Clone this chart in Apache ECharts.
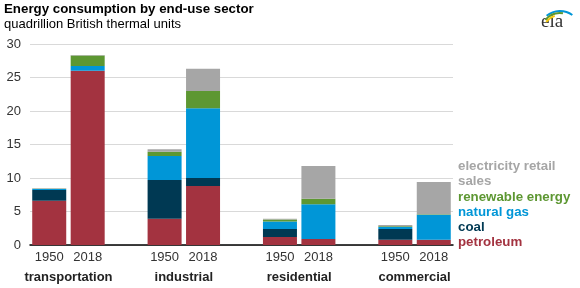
<!DOCTYPE html>
<html>
<head>
<meta charset="utf-8">
<script src="https://cdn.jsdelivr.net/npm/echarts@6/dist/echarts.min.js"></script>
<style>html,body{margin:0;padding:0;background:#fff;}#c{width:580px;height:288px;}</style>
</head>
<body>
<div id="c"></div>
<script>
var years = ['1950','2018','','1950','2018','','1950','2018','','1950','2018'];
var sectorLabels = ['','transportation','','','industrial','','','residential','','','commercial',''];
var petroleum   = [6.6, 26.0, null, 3.9, 8.8, null, 1.2, 0.9, null, 0.8, 0.8];
var coal        = [1.6, 0.0, null, 5.8, 1.2, null, 1.2, 0.0, null, 1.6, 0.0];
var naturalGas  = [0.15, 0.7, null, 3.6, 10.4, null, 1.1, 5.2, null, 0.3, 3.7];
var renewable   = [0.03, 1.6, null, 0.6, 2.6, null, 0.3, 0.8, null, 0.1, 0.1];
var electricity = [0.1, 0.05, null, 0.4, 3.3, null, 0.1, 4.9, null, 0.2, 4.8];
var seriesNames = ['petroleum','coal','natural gas','renewable energy','electricity retail sales'];
var legendLabels = ['electricity retail\nsales','renewable energy','natural gas','coal','petroleum'];
var colors = ['#a33340','#003953','#0096d7','#5d9732','#a6a6a6'];
var font = '"Liberation Sans", Arial, sans-serif';

var chart = echarts.init(document.getElementById('c'), null, {renderer:'canvas'});
var dataSets = [petroleum, coal, naturalGas, renewable, electricity];
var series = dataSets.map(function(d,i){
  return {name: seriesNames[i], type:'bar', stack:'total', data:d, barWidth:34,
    itemStyle:{color:colors[i]}, xAxisIndex:0, animation:false};
});
var legendY = [173.5, 197, 212, 227, 242];
var legendColors = [colors[4], colors[3], colors[2], colors[1], colors[0]];
var graphics = legendLabels.map(function(t,i){
  return {type:'text', left:458, top:legendY[i]-(i===0?15:7.5), silent:true,
    style:{text:t, fill:legendColors[i], font:'bold 13.3px '+font, lineHeight:15}};
});
graphics.push({type:'text', left:4, top:3, style:{text:'Energy consumption by end-use sector', fill:'#000', font:'bold 13.3px '+font}});
graphics.push({type:'text', left:4, top:18, style:{text:'quadrillion British thermal units', fill:'#000', font:'13px '+font}});
// eia logo
graphics.push({type:'text', left:541, top:13, style:{text:'eia', fill:'#333', font:'19px "Liberation Serif", serif'}});
graphics.push({type:'arc', shape:{cx:560, cy:32, r:21, startAngle:-Math.PI*0.72, endAngle:-Math.PI*0.3}, style:{stroke:'#0096d7', lineWidth:2, fill:null}});
graphics.push({type:'arc', shape:{cx:560, cy:32, r:19, startAngle:-Math.PI*0.78, endAngle:-Math.PI*0.45}, style:{stroke:'#5d9732', lineWidth:2, fill:null}});
graphics.push({type:'arc', shape:{cx:560, cy:32, r:17, startAngle:-Math.PI*0.8, endAngle:-Math.PI*0.6}, style:{stroke:'#f2c80f', lineWidth:2, fill:null}});

chart.setOption({
  animation:false,
  grid:{left:30, right:127, top:44, bottom:43, containLabel:false},
  xAxis:[{
    type:'category', data:years, boundaryGap:true,
    axisLine:{lineStyle:{color:'#000', width:1.5}}, axisTick:{show:false},
    axisLabel:{color:'#333', fontSize:13, fontFamily:font, margin:6, interval:0}
  },{
    type:'category', data:sectorLabels, boundaryGap:false, position:'bottom',
    axisLine:{show:false}, axisTick:{show:false}, splitLine:{show:false},
    axisLabel:{color:'#222', fontSize:13, fontWeight:'bold', fontFamily:font, margin:26, interval:0}
  }],
  yAxis:{type:'value', min:0, max:30, interval:5,
    axisLine:{show:false}, axisTick:{show:false},
    axisLabel:{color:'#333', fontSize:13, fontFamily:font, margin:9},
    splitLine:{lineStyle:{color:'#d9d9d9', width:1}}
  },
  series:series,
  graphic:graphics
});
</script>
</body>
</html>
